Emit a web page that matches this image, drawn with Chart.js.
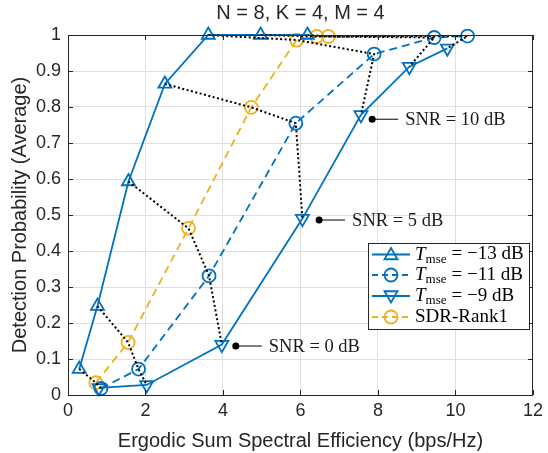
<!DOCTYPE html>
<html>
<head>
<meta charset="utf-8">
<script src="https://cdn.jsdelivr.net/npm/chart.js@4.4.1/dist/chart.umd.min.js"></script>
<style>
  html, body { margin: 0; padding: 0; background: #fff; }
</style>
</head>
<body>
<canvas id="chart" width="548" height="453"></canvas>
<script>
// values
const xTicks = [0, 2, 4, 6, 8, 10, 12];
const yTicks = [0, 0.1, 0.2, 0.3, 0.4, 0.5, 0.6, 0.7, 0.8, 0.9, 1];

// T_mse = -13 dB
const se13 = [0.29, 0.76, 1.56, 2.5, 3.62, 4.97, 6.18];
const pd13 = [0.072, 0.247, 0.593, 0.864, 1.0, 1.0, 1.0];
// T_mse = -11 dB
const se11 = [0.85, 1.82, 3.64, 5.88, 7.9, 9.45, 10.31];
const pd11 = [0.018, 0.072, 0.331, 0.755, 0.947, 0.993, 0.997];
// T_mse = -9 dB
const se9 = [0.8, 2.03, 3.97, 6.05, 7.56, 8.81, 9.79];
const pd9 = [0.02, 0.028, 0.14, 0.49, 0.778, 0.912, 0.963];
// SDR-Rank1
const seSdr = [0.72, 1.55, 3.11, 4.73, 5.9, 6.42, 6.72];
const pdSdr = [0.034, 0.146, 0.463, 0.799, 0.986, 0.996, 0.996];

const legendLabels = ['\u221213 dB', '\u221211 dB', '\u22129 dB', 'SDR-Rank1'];

// SNR call-outs: label and anchor dot
const snrLabels = ['SNR = 0 dB', 'SNR = 5 dB', 'SNR = 10 dB'];
const snrDotX = [4.33, 6.48, 7.85];
const snrDotY = [0.136, 0.486, 0.766];

const BLUE = '#0072BD';
const ORANGE = '#EDB120';
const AXIS = '#262626';
const GRID = '#dfdfdf';
const SANS = '"Liberation Sans", Arial, sans-serif';
const SERIF = '"Liberation Serif", "Times New Roman", serif';

const pts = (xs, ys) => xs.map((x, i) => ({ x, y: ys[i] }));

const series = [
    { data: pts(se13, pd13), color: BLUE, dash: [], style: 'triangle', rot: 0 },
    { data: pts(se11, pd11), color: BLUE, dash: [8, 5], style: 'circle', rot: 0 },
    { data: pts(se9, pd9), color: BLUE, dash: [], style: 'triangle', rot: 180 },
    { data: pts(seSdr, pdSdr), color: ORANGE, dash: [8, 5], style: 'circle', rot: 0 }
];

const datasets = series.map(s => ({
    data: s.data,
    showLine: true,
    clip: false,
    borderColor: s.color,
    borderWidth: 1.8,
    borderDash: s.dash,
    pointStyle: s.style,
    rotation: s.rot,
    pointRadius: s.style === 'triangle' ? 7.5 : 6.5,
    pointBorderWidth: 1.8,
    pointBorderColor: s.color,
    pointBackgroundColor: 'rgba(0,0,0,0)',
    order: 2
}));

// dotted lines joining the same SNR across the four curves
se13.forEach((_, i) => {
    datasets.push({
        data: [
            { x: se13[i], y: pd13[i] },
            { x: seSdr[i], y: pdSdr[i] },
            { x: se11[i], y: pd11[i] },
            { x: se9[i], y: pd9[i] }
        ],
        showLine: true,
        clip: false,
        borderColor: '#000',
        borderWidth: 2,
        borderDash: [2, 2.5],
        pointRadius: 0,
        order: 1
    });
});

const decor = {
    id: 'decor',
    afterDatasetsDraw(chart) {
        const { ctx, chartArea: a, scales: { x, y } } = chart;
        ctx.save();

        // box and inward ticks
        ctx.strokeStyle = AXIS;
        ctx.lineWidth = 1;
        ctx.strokeRect(a.left + 0.5, a.top + 0.5, a.right - a.left - 1, a.bottom - a.top);
        ctx.beginPath();
        xTicks.forEach(v => {
            const px = Math.round(x.getPixelForValue(v)) + 0.5;
            ctx.moveTo(px, a.bottom); ctx.lineTo(px, a.bottom - 5);
            ctx.moveTo(px, a.top); ctx.lineTo(px, a.top + 5);
        });
        yTicks.forEach(v => {
            const py = Math.round(y.getPixelForValue(v)) + 0.5;
            ctx.moveTo(a.left, py); ctx.lineTo(a.left + 5, py);
            ctx.moveTo(a.right, py); ctx.lineTo(a.right - 5, py);
        });
        ctx.stroke();

        // title and axis labels
        ctx.fillStyle = AXIS;
        ctx.font = '20px ' + SANS;
        ctx.textAlign = 'center';
        ctx.textBaseline = 'middle';
        ctx.fillText('N = 8, K = 4, M = 4', (a.left + a.right) / 2, 13);
        ctx.fillText('Ergodic Sum Spectral Efficiency (bps/Hz)', (a.left + a.right) / 2, 441);
        ctx.save();
        ctx.translate(20, (a.top + a.bottom) / 2);
        ctx.rotate(-Math.PI / 2);
        ctx.fillText('Detection Probability (Average)', 0, 0);
        ctx.restore();

        // SNR call-outs
        ctx.font = '18.5px ' + SERIF;
        ctx.textAlign = 'left';
        snrLabels.forEach((t, i) => {
            const px = x.getPixelForValue(snrDotX[i]);
            const py = y.getPixelForValue(snrDotY[i]);
            ctx.fillStyle = '#000';
            ctx.beginPath();
            ctx.arc(px, py, 3.5, 0, Math.PI * 2);
            ctx.fill();
            ctx.strokeStyle = '#000';
            ctx.lineWidth = 1;
            ctx.beginPath();
            ctx.moveTo(px, py); ctx.lineTo(px + 26, py);
            ctx.stroke();
            ctx.fillStyle = '#1a1a1a';
            ctx.fillText(t, px + 33, py + 1);
        });

        // legend
        const lx = 368, ly = 243, lw = 161, lh = 86;
        ctx.fillStyle = '#fff';
        ctx.fillRect(lx, ly, lw, lh);
        ctx.strokeStyle = AXIS;
        ctx.lineWidth = 1;
        ctx.strokeRect(lx + 0.5, ly + 0.5, lw, lh);
        const rowY = [254.5, 275, 296, 317];
        series.forEach((s, i) => {
            const cy = rowY[i];
            ctx.strokeStyle = s.color;
            ctx.lineWidth = 1.8;
            ctx.setLineDash(s.dash.length ? [6, 4] : []);
            ctx.beginPath();
            ctx.moveTo(372, cy); ctx.lineTo(410, cy);
            ctx.stroke();
            ctx.setLineDash([]);
            ctx.fillStyle = 'rgba(0,0,0,0)';
            ctx.strokeStyle = s.color;
            Chart.helpers.drawPoint(ctx, {
                pointStyle: s.style, rotation: s.rot,
                radius: s.style === 'triangle' ? 7.5 : 6.5, borderWidth: 1.8
            }, 391, cy + (s.style === 'triangle' ? (s.rot ? -1 : 1) : 0));
            ctx.fillStyle = '#000';
            ctx.textAlign = 'left';
            if (i < 3) {
                ctx.font = 'italic 19px ' + SERIF;
                ctx.fillText('T', 415, cy);
                let tx = 415 + ctx.measureText('T').width;
                ctx.font = '13px ' + SERIF;
                ctx.fillText('mse', tx, cy + 5);
                tx += ctx.measureText('mse').width + 5;
                ctx.font = '19px ' + SERIF;
                ctx.fillText('= ' + legendLabels[i], tx, cy);
            } else {
                ctx.font = '19px ' + SERIF;
                ctx.fillText(legendLabels[i], 415, cy);
            }
        });
        ctx.restore();
    }
};

new Chart(document.getElementById('chart'), {
    type: 'scatter',
    data: { datasets },
    options: {
        responsive: false,
        animation: false,
        devicePixelRatio: 1,
        layout: { padding: { left: 0, right: 12, top: 35, bottom: 0 } },
        plugins: { legend: { display: false }, tooltip: { enabled: false } },
        scales: {
            x: {
                type: 'linear', min: 0, max: 12,
                afterBuildTicks: sc => { sc.ticks = xTicks.map(v => ({ value: v })); },
                afterFit: sc => { sc.height = 58; },
                grid: { color: GRID, drawTicks: false },
                border: { display: false },
                ticks: { color: AXIS, padding: 5, font: { family: SANS, size: 18 } }
            },
            y: {
                type: 'linear', min: 0, max: 1,
                afterBuildTicks: sc => { sc.ticks = yTicks.map(v => ({ value: v })); },
                afterFit: sc => { sc.width = 68; },
                grid: { color: GRID, drawTicks: false },
                border: { display: false },
                ticks: {
                    color: AXIS, padding: 7, font: { family: SANS, size: 18 },
                    callback: v => (v === 0 || v === 1) ? String(v) : v.toFixed(1)
                }
            }
        }
    },
    plugins: [decor]
});
</script>
</body>
</html>
